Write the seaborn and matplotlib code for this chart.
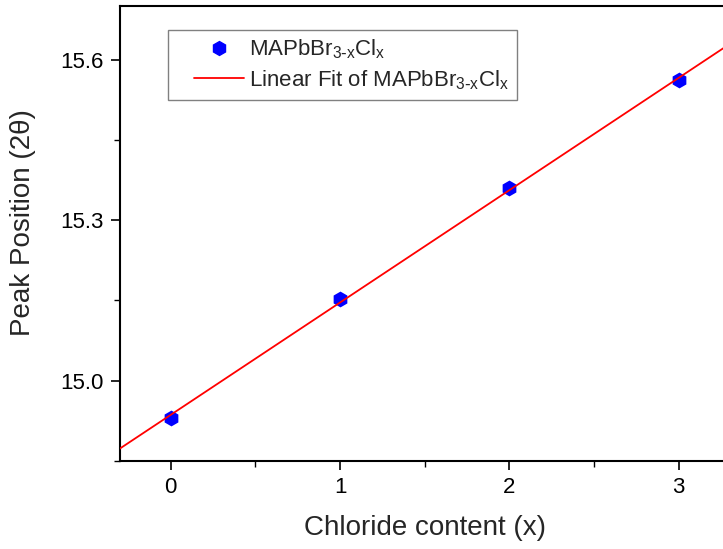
import numpy as np
import pandas as pd
import matplotlib
matplotlib.use("Agg")
import matplotlib.pyplot as plt
from matplotlib.ticker import MultipleLocator
from matplotlib.lines import Line2D
from matplotlib.legend_handler import HandlerLine2D
import seaborn as sns

# Data
chloride = [0, 1, 2, 3]
peak_pos = [14.931, 15.152, 15.360, 15.561]
xticks = [0, 1, 2, 3]
yticks = [15.0, 15.3, 15.6]
label_pts = r"MAPbBr$_{\mathregular{3\text{-}x}}$Cl$_{\mathregular{x}}$"
label_fit = r"Linear Fit of MAPbBr$_{\mathregular{3\text{-}x}}$Cl$_{\mathregular{x}}$"

df = pd.DataFrame({"x": chloride, "y": peak_pos})

sns.set_theme(style="ticks")
plt.rcParams["font.family"] = ["Liberation Sans", "DejaVu Sans"]
plt.rcParams["mathtext.default"] = "regular"

fig = plt.figure(figsize=(7.23, 5.49), dpi=100)
ax = fig.add_axes([120/723, 88/549, 609.4/723, 455/549])
ax.set_xlim(-0.3, 3.3)
ax.set_ylim(14.85, 15.70)

sns.scatterplot(data=df, x="x", y="y", ax=ax, marker="h", s=130,
                color="#0000ff", edgecolor="#0000ff", linewidth=0, zorder=2)
sns.regplot(data=df, x="x", y="y", ax=ax, scatter=False, ci=None, truncate=False,
            line_kws=dict(color="#ff0000", lw=1.3, zorder=3))
ax.set_xlim(-0.3, 3.3)
ax.set_ylim(14.85, 15.70)

ax.set_xticks(xticks)
ax.set_yticks(yticks)
ax.set_yticklabels([f"{v:.1f}" for v in yticks])
ax.xaxis.set_minor_locator(MultipleLocator(0.5))
ax.yaxis.set_minor_locator(MultipleLocator(0.15))
ax.tick_params(which="major", direction="out", length=6.5, width=1.2,
               labelsize=16, colors="black", pad=5)
ax.tick_params(which="minor", direction="out", length=4, width=1.0, colors="black")
ax.tick_params(top=False, right=False, which="both")

for s in ["left", "bottom", "top", "right"]:
    ax.spines[s].set_visible(True)
    ax.spines[s].set_linewidth(1.5)
    ax.spines[s].set_color("black")

ax.set_xlabel("Chloride content (x)", fontsize=20, labelpad=12)
ax.set_ylabel("Peak Position (2θ)", fontsize=20)
ax.yaxis.set_label_coords(-84/609.4, 0.523)

handles = [
    Line2D([], [], marker="h", linestyle="none", color="#0000ff", markersize=10),
    Line2D([], [], color="#ff0000", lw=1.3),
]
leg = ax.legend(handles, [label_pts, label_fit], loc="upper left",
                bbox_to_anchor=(0.079, 0.947), borderaxespad=0, fontsize=16,
                frameon=True, fancybox=False, framealpha=1, edgecolor="#808080",
                handlelength=3.05, handletextpad=0.22, labelspacing=0.3,
                borderpad=0.35,
                handler_map={Line2D: HandlerLine2D(xpad=0.82)})
leg.get_frame().set_linewidth(1.0)

fig.savefig("out.png", dpi=100)
